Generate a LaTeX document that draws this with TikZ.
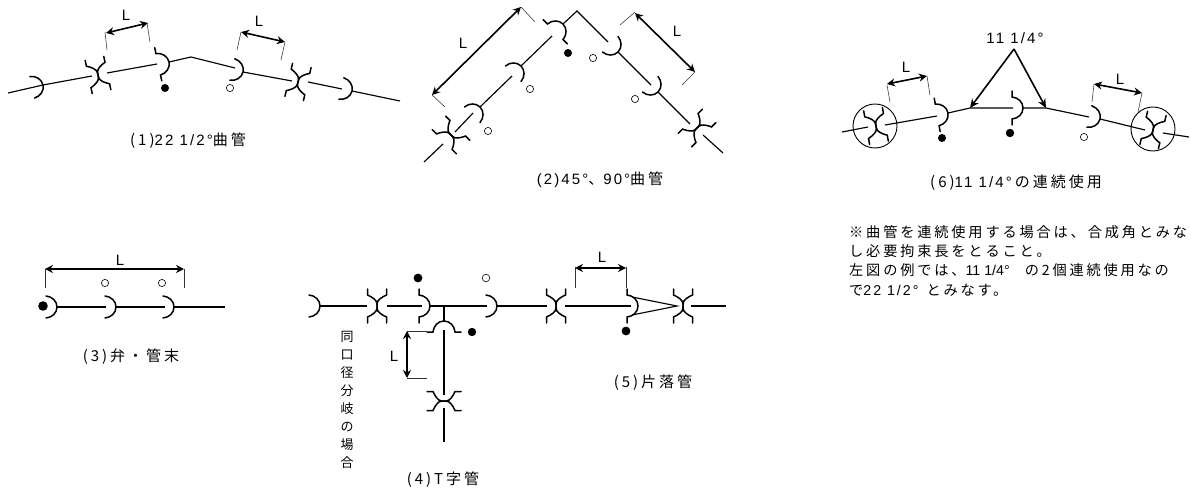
\documentclass[tikz,border=0pt]{standalone}
\usepackage{fontspec}
\usetikzlibrary{arrows.meta}
\setmainfont[LetterSpace=14]{Liberation Sans}
\newfontfamily\plainlat{Liberation Sans}
\newfontfamily\jpw[LetterSpace=20]{Noto Sans CJK JP}
\newfontfamily\jpn{Noto Sans CJK JP}
\newcommand{\Jw}[1]{{\jpw #1}}
\tikzset{
  x=1pt,y=-1pt,
  pipe/.style={line width=1.15pt,black},
  joint/.style={line width=1.5pt,black,line cap=round},
  ext/.style={line width=0.55pt,black!80},
  dimarrow/.style={line width=1.6pt,{Stealth[length=8pt,width=8pt]}-{Stealth[length=8pt,width=8pt]}},
  leader/.style={line width=1.6pt,-{Stealth[length=9pt,width=8pt]}},
  filled/.style={fill=black,draw=none},
  hollow/.style={draw=black,line width=0.6pt,fill=white},
  ring/.style={draw=black,line width=0.9pt},
  txt/.style={font=\fontsize{15}{16}\selectfont,inner sep=0pt},
  lbl/.style={font=\fontsize{15}{15}\selectfont\plainlat,inner sep=0pt},
  note/.style={font=\fontsize{14.2}{15}\selectfont,inner sep=0pt,anchor=west},
  pics/bellA/.style={code={
    \draw[joint] (-11,-11) .. controls (-5,-10.5) and (0,-6) .. (0,0) .. controls (0,6) and (-5,10.5) .. (-11,11);}},
  pics/bellT/.style={code={
    \draw[joint] (-11,-17) -- (-11,-11) .. controls (-5,-10.5) and (0,-6) .. (0,0) .. controls (0,6) and (-5,10.5) .. (-11,11) -- (-11,17);}},
  pics/xjoint/.style={code={
    \draw[joint] (-9.5,-17) -- (-9.5,-11) .. controls (-5,-9) and (0,-6) .. (0,-2) -- (0,2) .. controls (0,6) and (-5,9) .. (-9.5,11) -- (-9.5,17);
    \draw[joint] (9.5,-17) -- (9.5,-11) .. controls (5,-9) and (0,-6) .. (0,-2) -- (0,2) .. controls (0,6) and (5,9) .. (9.5,11) -- (9.5,17);}},
}
\begin{document}
\begin{tikzpicture}
\useasboundingbox (0,0) rectangle (1191,489);
% ---------- (1)
\draw[pipe] (8,93) -- (43,85) -- (92,76);
\draw[pipe] (107,73) -- (157,64);
\draw[pipe] (169,62) -- (191,57) -- (235,68);
\draw[pipe] (243,72) -- (292,81);
\draw[pipe] (308,82) -- (342,89);
\draw[pipe] (352,91) -- (400,101);
\pic[rotate=12] at (43,85) {bellA};
\pic[rotate=12] at (98,75) {xjoint};
\pic[rotate=12] at (169,62) {bellT};
\pic[rotate=-13] at (243,72) {bellA};
\pic[rotate=-13] at (298,82) {xjoint};
\pic[rotate=-13] at (352,91) {bellA};
\fill[filled] (165,88) circle (4);
\draw[hollow] (230,88) circle (3.6);
\draw[ext] (107,50) -- (105,32);
\draw[ext] (150,42) -- (147,23);
\draw[dimarrow] (106,33) -- (148,23);
\node[lbl] (l1a) at (126,15) {L};
\draw[ext] (237,50) -- (241,32);
\draw[ext] (281,60) -- (285,42);
\draw[dimarrow] (241,32) -- (285,42);
\node[lbl] (l1b) at (259,21) {L};
\node[txt] (cap1) at (188,141) {\Jw{(1)}22 1/2°\Jw{曲管}};
% ---------- (2)
\draw[pipe] (424,162) -- (443,144);
\draw[pipe] (455,132) -- (473,113);
\draw[pipe] (480,107) -- (512,76);
\draw[pipe] (521,66) -- (552,36);
\draw[pipe] (563,24) -- (577,11) -- (608,42);
\draw[pipe] (618,52) -- (651,85);
\draw[pipe] (658,92) -- (690,124);
\draw[pipe] (703,135) -- (723,153);
\pic[rotate=45] at (451,135) {xjoint};
\pic[rotate=45] at (480,107) {bellA};
\pic[rotate=45] at (521,66) {bellA};
\pic[rotate=45] at (563,24) {bellT};
\pic[rotate=-45] at (618,52) {bellA};
\pic[rotate=-45] at (658,92) {bellA};
\pic[rotate=-45] at (697,128) {xjoint};
\fill[filled] (568,53) circle (4);
\draw[hollow] (593,58) circle (3.6);
\draw[hollow] (530,89) circle (3.6);
\draw[hollow] (488,131) circle (3.6);
\draw[hollow] (635,99) circle (3.6);
\draw[ext] (432,95) -- (445,107);
\draw[ext] (521,7) -- (535,22);
\draw[dimarrow] (432,95) -- (521,7);
\node[lbl] (l2a) at (463,43) {L};
\draw[ext] (620,25) -- (635,12);
\draw[ext] (695,72) -- (682,85);
\draw[dimarrow] (635,13) -- (695,72);
\node[lbl] (l2b) at (677,31) {L};
\node[txt] (cap2) at (600,180) {(2)45°\Jw{、}90°\Jw{曲管}};
% ---------- (3)
\draw[pipe] (57,307) -- (106,307);
\draw[pipe] (116,307) -- (165,307);
\draw[pipe] (174,307) -- (225,307);
\pic at (57,307) {bellA};
\pic at (116,307) {bellA};
\pic at (174,307) {bellA};
\fill[filled] (43,306) circle (4.8);
\draw[hollow] (105,283) circle (3.6);
\draw[hollow] (162,283) circle (3.6);
\draw[ext] (45,269) -- (45,288);
\draw[ext] (184,269) -- (184,288);
\draw[dimarrow] (45,269) -- (184,269);
\node[lbl] (l3) at (120,260) {L};
\node[txt] (cap3) at (131,357) {\Jw{(3)弁・管末}};
% ---------- (4)
\draw[pipe] (320,306) -- (367,306);
\draw[pipe] (387,306) -- (422,306);
\draw[pipe] (430,306) -- (487,306);
\draw[pipe] (497,306) -- (547,306);
\draw[pipe] (444,306) -- (444,321);
\draw[pipe] (444,330) -- (444,395);
\draw[pipe] (444,408) -- (444,442);
\pic at (320,306) {bellA};
\pic at (377,306) {xjoint};
\pic at (430,306) {bellT};
\pic at (497,306) {bellA};
\pic at (556,306) {xjoint};
\pic[rotate=90] at (444,321) {bellT};
\pic[rotate=90] at (444,401) {xjoint};
\fill[filled] (418,278) circle (4.4);
\draw[hollow] (486,278) circle (3.8);
\fill[filled] (472,332) circle (4.2);
\draw[ext] (407,331) -- (427,331);
\draw[ext] (407,378) -- (427,378);
\draw[dimarrow] (407,331) -- (407,378);
\node[lbl] (l4) at (394,356) {L};
\node[txt,align=center,font=\fontsize{13}{18}\selectfont\jpn] (vert) at (347,400) {同\\口\\径\\分\\岐\\の\\場\\合};
\node[txt] (cap4) at (443,480) {\Jw{(4)T字管}};
% ---------- (5)
\draw[pipe] (565,306) -- (631,306);
\draw[pipe] (691,306) -- (726,306);
\draw[pipe] (632,297) -- (677,306) -- (632,315);
\pic at (638,306) {bellT};
\pic at (683,306) {xjoint};
\fill[filled] (626,331) circle (4.4);
\draw[ext] (575,267) -- (575,288);
\draw[ext] (626,267) -- (626,288);
\draw[dimarrow] (575,268) -- (626,268);
\node[lbl] (l5) at (602,257) {L};
\node[txt] (cap5) at (653,383) {\Jw{(5)片落管}};
% ---------- (6)
\draw[ring] (875,126) circle (22);
\draw[ring] (1153,129) circle (22);
\draw[pipe] (842,132) -- (868,127);
\draw[pipe] (885,125) -- (937,116);
\draw[pipe] (948,113) -- (970,108) -- (1013,108);
\draw[pipe] (1023,108) -- (1046,108) -- (1089,117);
\draw[pipe] (1100,119) -- (1145,130);
\draw[pipe] (1163,133) -- (1189,137);
\pic[rotate=10] at (876,126) {xjoint};
\pic[rotate=10] at (948,113) {bellT};
\pic at (1023,108) {bellT};
\pic[rotate=-13] at (1100,119) {bellA};
\pic[rotate=-13] at (1153,130) {xjoint};
\fill[filled] (942,138) circle (4);
\fill[filled] (1010,133) circle (4.2);
\draw[hollow] (1084,137) circle (3.6);
\coordinate (apex) at (1014,49);
\draw[leader] (apex) -- (970,108);
\draw[leader] (apex) -- (1046,108);
\node[txt] (ang) at (1015,38) {11 1/4°};
\draw[ext] (887,85) -- (890,102);
\draw[ext] (927,76) -- (930,95);
\draw[dimarrow] (887,84) -- (927,76);
\node[lbl] (l6a) at (906,67) {L};
\draw[ext] (1094,84) -- (1092,102);
\draw[ext] (1142,93) -- (1138,112);
\draw[dimarrow] (1094,84) -- (1142,93);
\node[lbl] (l6b) at (1120,79) {L};
\node[txt] (cap6) at (1016,183) {\Jw{(6)}11 1/4°\hspace{3pt}\Jw{の連続使用}};
% ---------- note
\node[note] (n1) at (849,232) {\Jw{※曲管を連続使用する場合は、合成角とみな}};
\node[note] (n2) at (849,251) {\Jw{し必要拘束長をとること。}};
\node[note] (n3) at (849,270.5) {\Jw{左図の例では、}{\plainlat 11 1/4°}\hspace{15pt}\Jw{の2個連続使用なの}};
\node[note] (n4) at (849,290) {\Jw{で}22 1/2°\hspace{8pt}\Jw{とみなす。}};
\end{tikzpicture}
\end{document}
